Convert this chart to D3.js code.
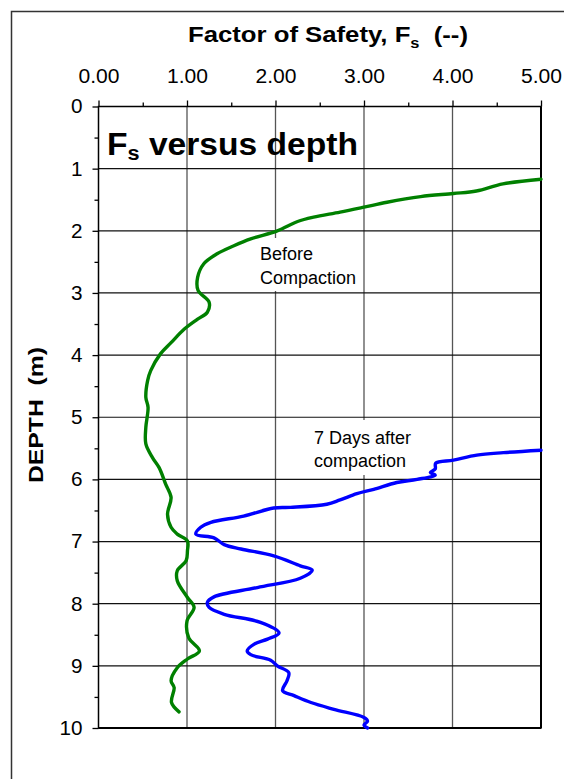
<!DOCTYPE html>
<html><head><meta charset="utf-8">
<script src="https://cdn.jsdelivr.net/npm/d3@7"></script>
<style>html,body{margin:0;padding:0;background:#fff}svg{display:block}text{font-family:"Liberation Sans",Arial,sans-serif;fill:#000;white-space:pre}</style>
</head><body><svg id="c" width="564" height="779"></svg>
<script>
// ---- data ----
const fsTicks = [0, 1, 2, 3, 4, 5];
const fsMinor = [0.5, 1.5, 2.5, 3.5, 4.5];
const depthTicks = [0, 1, 2, 3, 4, 5, 6, 7, 8, 9, 10];
const depthMinor = [0.5, 1.5, 2.5, 3.5, 4.5, 5.5, 6.5, 7.5, 8.5, 9.5];

const beforeFs = [5.00,4.57,4.27,4.01,3.64,3.26,3.00,2.73,2.43,2.25,2.02,1.72,1.53,1.34,1.19,1.12,1.125,1.25,1.23,1.12,0.97,0.82,0.70,0.59,0.555,0.535,0.56,0.535,0.535,0.61,0.685,0.76,0.82,0.78,0.82,0.89,1.005,1.005,0.99,0.89,0.89,1.005,1.08,1.0,1.02,1.14,1.005,0.89,0.82,0.855,0.825,0.91];
const beforeDepth = [1.17,1.245,1.36,1.40,1.45,1.54,1.62,1.70,1.78,1.85,2.0,2.13,2.24,2.37,2.53,2.75,2.96,3.15,3.31,3.42,3.58,3.80,3.98,4.25,4.41,4.68,4.84,5.16,5.43,5.65,5.81,6.08,6.29,6.56,6.77,6.88,6.99,7.15,7.31,7.47,7.63,7.90,8.06,8.28,8.55,8.76,8.89,9.03,9.24,9.35,9.59,9.74];

const afterFs = [5.0,4.575,4.275,4.01,3.81,3.805,3.75,3.805,3.60,3.37,3.11,2.92,2.73,2.58,2.17,1.98,1.64,1.27,1.155,1.10,1.305,1.42,1.61,1.98,2.28,2.415,2.28,1.795,1.305,1.23,1.25,1.42,1.83,2.04,1.91,1.76,1.68,1.72,1.945,2.02,2.15,2.13,2.08,2.21,2.40,2.66,3.00,3.04,3.00,3.04];
const afterDepth = [5.53,5.57,5.61,5.69,5.74,5.83,5.89,5.93,6.0,6.05,6.16,6.23,6.33,6.40,6.45,6.46,6.59,6.69,6.77,6.88,6.94,7.05,7.12,7.23,7.39,7.46,7.59,7.74,7.89,7.98,8.06,8.17,8.30,8.47,8.57,8.65,8.76,8.82,8.91,9.0,9.11,9.24,9.40,9.48,9.59,9.70,9.83,9.89,9.95,10.0];

const titleMain = "Factor of Safety, F";
const titleSub = "s";
const titleTail = "  (--)";
const yTitle = "DEPTH  (m)";
const beforeLabel = ["Before", "Compaction"];
const afterLabel = ["7 Days after", "compaction"];

// ---- drawing ----
const svg = d3.select('#c');
const x = d3.scaleLinear().domain([0, 5]).range([98.5, 541]);
const y = d3.scaleLinear().domain([0, 10]).range([106.5, 728]);

// outer frame
svg.append('rect').attr('x', 11.5).attr('y', 11.5).attr('width', 640).attr('height', 840)
  .attr('fill', 'none').attr('stroke', '#333').attr('stroke-width', 1.5);

// grid
svg.append('g').selectAll('line').data(fsTicks.slice(1, -1)).join('line')
  .attr('x1', d => x(d)).attr('x2', d => x(d)).attr('y1', y(0)).attr('y2', y(10))
  .attr('stroke', '#555').attr('stroke-width', 1.3);
svg.append('g').selectAll('line').data(depthTicks.slice(1, -1)).join('line')
  .attr('x1', x(0)).attr('x2', x(5)).attr('y1', d => y(d)).attr('y2', d => y(d))
  .attr('stroke', '#111').attr('stroke-width', 1.2);

// label background boxes
svg.append('rect').attr('x', 256).attr('y', 238).attr('width', 106).attr('height', 53).attr('fill', '#fff');
svg.append('rect').attr('x', 308).attr('y', 420).attr('width', 108).attr('height', 55).attr('fill', '#fff');

// axes
function styleAxis(g) {
  g.select('.domain').remove();
  g.selectAll('line').attr('stroke', '#000').attr('stroke-width', 1.3);
  g.selectAll('text').attr('font-size', 20).attr('font-family', '"Liberation Sans",Arial,sans-serif').attr('fill', '#000')
    .attr('lengthAdjust', 'spacingAndGlyphs');
}
svg.append('g').attr('transform', `translate(0,${y(0)})`)
  .call(d3.axisTop(x).tickValues(fsTicks).tickSize(6).tickSizeOuter(0).tickPadding(18).tickFormat(d3.format('.2f')))
  .call(styleAxis)
  .call(g => g.selectAll('text').attr('textLength', 41));
svg.append('g').attr('transform', `translate(0,${y(0)})`)
  .call(d3.axisTop(x).tickValues(fsMinor).tickSize(4).tickSizeOuter(0).tickFormat(''))
  .call(styleAxis);
svg.append('g').attr('transform', `translate(${x(0)},0)`)
  .call(d3.axisLeft(y).tickValues(depthTicks).tickSize(6).tickSizeOuter(0).tickPadding(10).tickFormat(d3.format('d')))
  .call(styleAxis)
  .call(g => g.selectAll('text').attr('textLength', d => String(d).length * 11.5));
svg.append('g').attr('transform', `translate(${x(0)},0)`)
  .call(d3.axisLeft(y).tickValues(depthMinor).tickSize(4).tickSizeOuter(0).tickFormat(''))
  .call(styleAxis);

// plot border
svg.append('rect').attr('x', x(0)).attr('y', y(0)).attr('width', x(5) - x(0)).attr('height', y(10) - y(0))
  .attr('fill', 'none').attr('stroke', '#000').attr('stroke-width', 1.5);
svg.append('line').attr('x1', x(5)).attr('x2', x(5)).attr('y1', y(0)).attr('y2', y(10)).attr('stroke', '#000').attr('stroke-width', 2);
svg.append('line').attr('x1', x(0)).attr('x2', x(5)).attr('y1', y(10)).attr('y2', y(10)).attr('stroke', '#000').attr('stroke-width', 2);

// curves
const line = d3.line().x(d => x(d[0])).y(d => y(d[1])).curve(d3.curveCatmullRom.alpha(0.5));
svg.append('path').datum(d3.zip(beforeFs, beforeDepth)).attr('d', line)
  .attr('fill', 'none').attr('stroke', '#008000').attr('stroke-width', 3.4).attr('stroke-linejoin', 'round').attr('stroke-linecap', 'round');
svg.append('path').datum(d3.zip(afterFs, afterDepth)).attr('d', line)
  .attr('fill', 'none').attr('stroke', '#0000ff').attr('stroke-width', 3.4).attr('stroke-linejoin', 'round').attr('stroke-linecap', 'round');

// annotation labels
const bl = svg.append('text').attr('x', 260).attr('y', 260).attr('font-size', 18);
bl.append('tspan').attr('x', 260).text(beforeLabel[0]);
bl.append('tspan').attr('x', 260).attr('dy', 24).text(beforeLabel[1]);
const al = svg.append('text').attr('x', 314).attr('y', 443.5).attr('font-size', 18);
al.append('tspan').attr('x', 314).text(afterLabel[0]);
al.append('tspan').attr('x', 314).attr('dy', 23.5).text(afterLabel[1]);

// title
const t = svg.append('text').attr('x', 188).attr('y', 42).attr('font-size', 22).attr('font-weight', 'bold')
  .attr('textLength', 280).attr('lengthAdjust', 'spacingAndGlyphs');
t.append('tspan').text(titleMain);
t.append('tspan').attr('font-size', 14).attr('dy', 6).text(titleSub);
t.append('tspan').attr('dy', -6).text(titleTail);

// chart heading inside plot
const h = svg.append('text').attr('x', 107).attr('y', 155).attr('font-size', 31).attr('font-weight', 'bold')
  .attr('textLength', 251).attr('lengthAdjust', 'spacingAndGlyphs');
h.append('tspan').text('F');
h.append('tspan').attr('font-size', 20).attr('dy', 5).text('s');
h.append('tspan').attr('dy', -5).text(' versus depth');

// y title
svg.append('text').attr('transform', 'translate(43,415) rotate(-90)').attr('text-anchor', 'middle')
  .attr('font-size', 21).attr('font-weight', 'bold').attr('textLength', 136).attr('lengthAdjust', 'spacingAndGlyphs')
  .text(yTitle);
</script></body></html>
